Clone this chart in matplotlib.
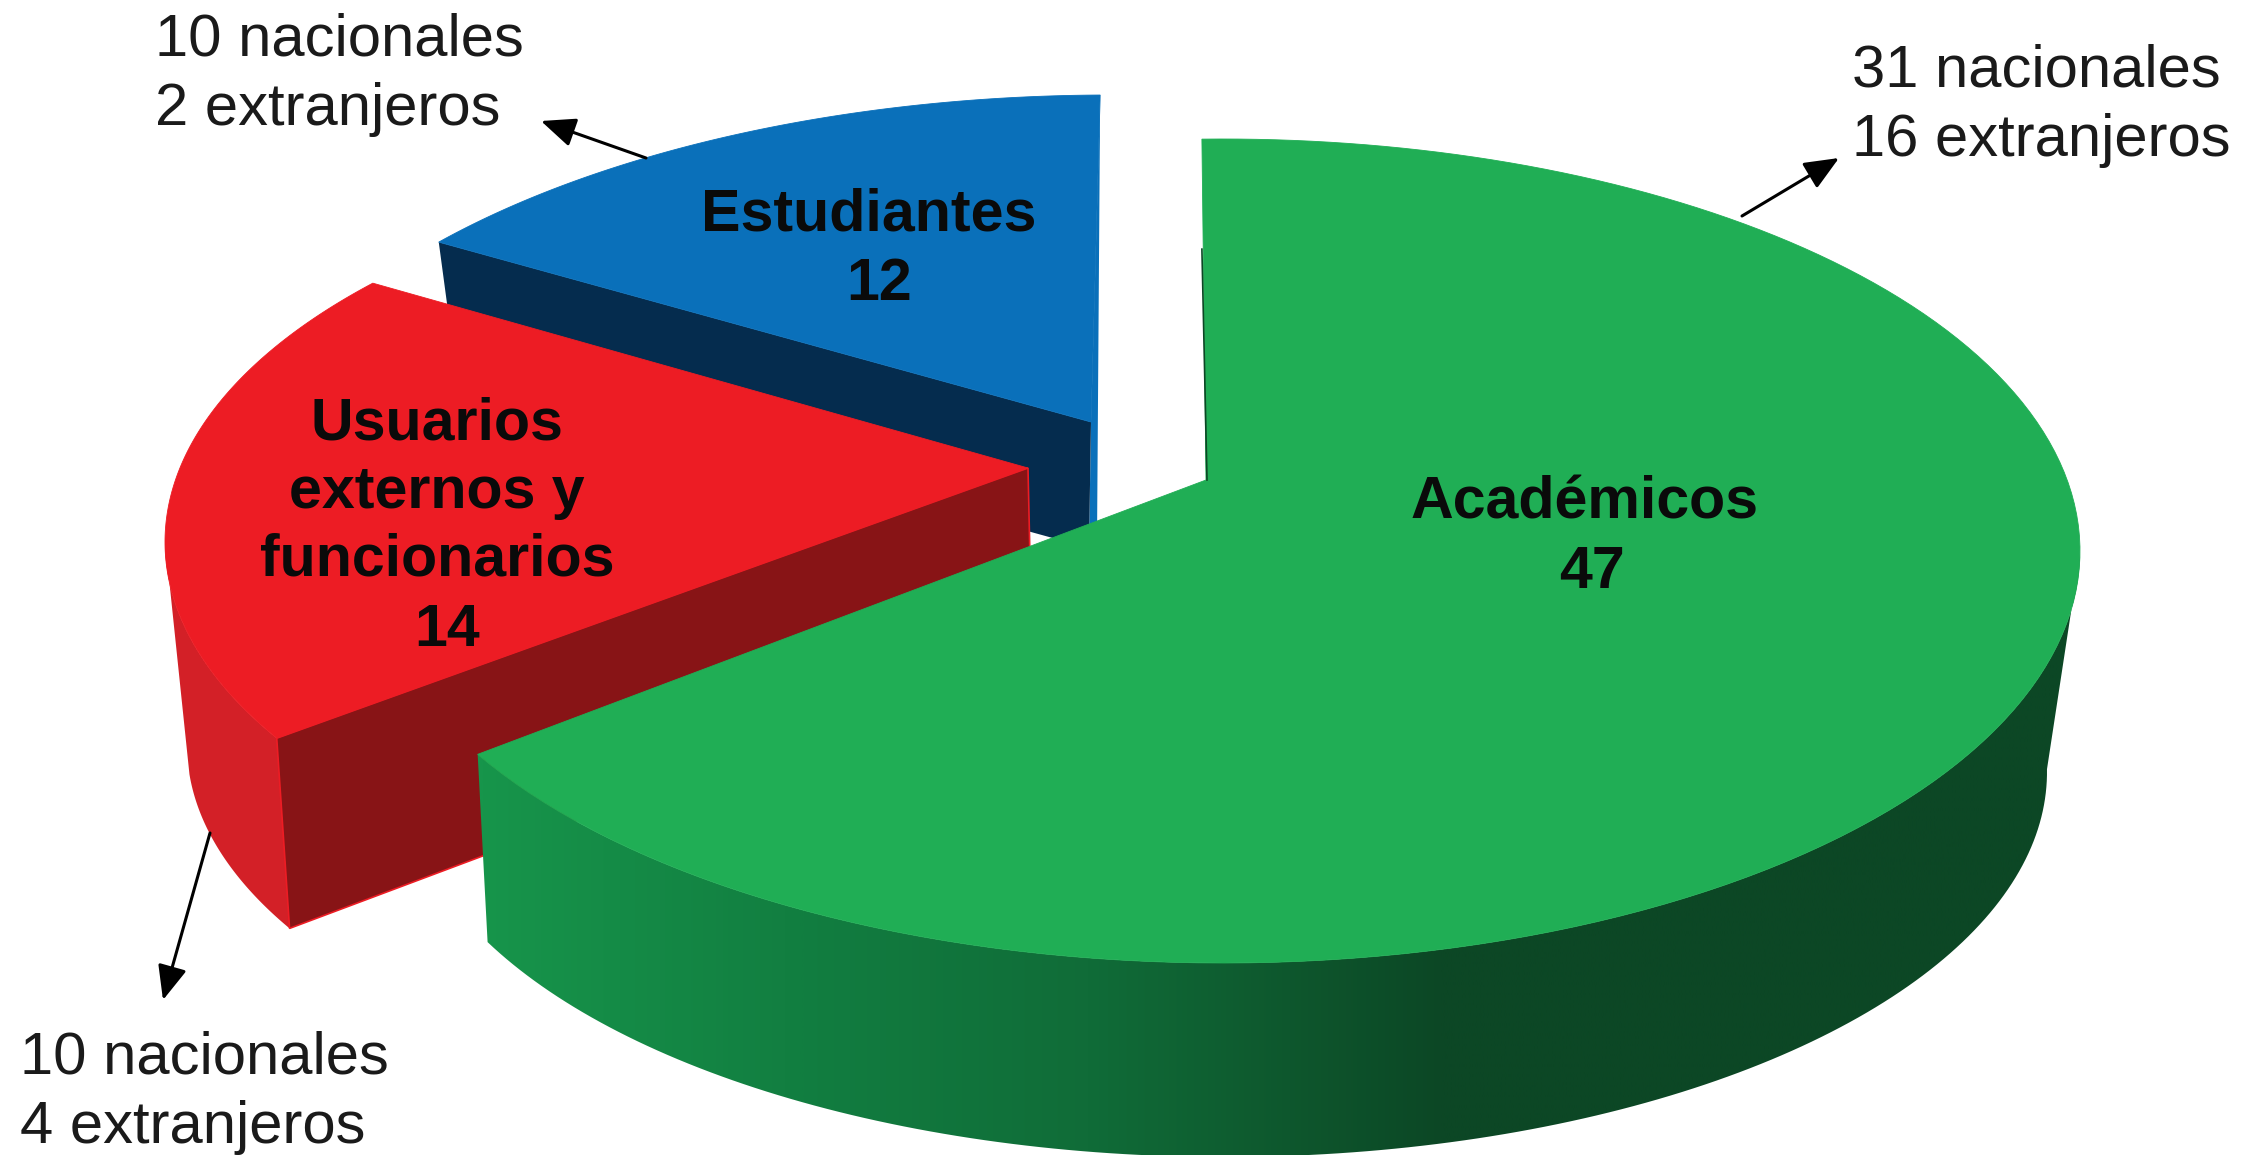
import numpy as np
import matplotlib
matplotlib.use("Agg")
import matplotlib.pyplot as plt
from matplotlib.patches import Polygon
from matplotlib.colors import LinearSegmentedColormap

plt.rcParams['font.family'] = ['Liberation Sans', 'DejaVu Sans']

# ---- data ----
categories = ["Académicos", "Usuarios\nexternos y\nfuncionarios", "Estudiantes"]
values = [47, 14, 12]
notes = ["31 nacionales\n16 extranjeros", "10 nacionales\n4 extranjeros", "10 nacionales\n2 extranjeros"]

W, H = 2259, 1155
fig = plt.figure(figsize=(W / 100, H / 100), dpi=100)
ax = fig.add_axes([0, 0, 1, 1])
ax.axis("off")


# ---- projection of the tilted pie (page pixels) ----
def hit(apex, ell, theta, shear=0.0, stretch=2.1):
    """Where the ray of pie-angle theta (deg, clockwise from 12 o'clock) leaves the ellipse."""
    t = np.radians(theta)
    dx = stretch * np.sin(t) + shear * np.cos(t)
    dy = -np.cos(t)
    cx, cy, rx, ry = ell
    px, py = (apex[0] - cx) / rx, (apex[1] - cy) / ry
    qx, qy = dx / rx, dy / ry
    a, b, c = qx**2 + qy**2, 2 * (px * qx + py * qy), px**2 + py**2 - 1
    s = (-b + np.sqrt(b * b - 4 * a * c)) / (2 * a)
    return np.array([apex[0] + s * dx, apex[1] + s * dy])


def arc(apex, ell, t0, t1, shear=0.0, stretch=2.1, n=160):
    return np.array([hit(apex, ell, t, shear, stretch) for t in np.linspace(t0, t1, n)])


shares = np.array(values) / sum(values) * 360
edges = np.concatenate([[0], np.cumsum(shares)])
g0, g1 = edges[0], edges[1]
r0, r1 = edges[1], edges[2]
b0, b1 = edges[2], edges[3]

# geometry of each exploded slice: apex and ellipse, top and bottom faces
G_TOP, G_TOP_E = (1206, 480), (1223, 551, 857, 412)
G_BOT, G_BOT_E = (1210, 670), (1225, 772, 822, 385)
R_TOP, R_TOP_E = (1028, 468), (970, 542, 805, 386)
R_BOT, R_BOT_E = (1032, 650), (967, 745, 780, 370)
B_TOP, B_TOP_E = (1091, 422), (1110, 521, 888, 426)
B_BOT, B_BOT_E = (1089, 548), (1110, 640, 860, 410)
G_SHEAR, B_SHEAR = -0.012, 0.028
R_SHEAR, R_STRETCH = 0.054, 2.147
B_STRETCH = 2.18

BLUE, BLUE_D = "#0a70ba", "#052c4e"
RED, RED_D, RED_W = "#ed1c24", "#881416", "#d32027"
GREEN = "#20ae55"

# -- blue slice --
bt = arc(B_TOP, B_TOP_E, b0, b1, B_SHEAR, B_STRETCH)
bl_top, br_top = bt[0], bt[-1]
bl_bot = hit(B_BOT, B_BOT_E, b0, B_SHEAR, B_STRETCH)
ax.add_patch(Polygon([br_top, np.array(B_BOT) + (8, -6), B_BOT, B_TOP], fc=BLUE, ec="none", zorder=1))
ax.add_patch(Polygon([B_TOP, bl_top, bl_bot, B_BOT], fc=BLUE_D, ec="none", zorder=2))
ax.add_patch(Polygon(np.vstack([[B_TOP], bt]), fc=BLUE, ec=BLUE, lw=0.6, zorder=3))

# -- red slice --
rt = arc(R_TOP, R_TOP_E, r0, r1, R_SHEAR, R_STRETCH)
rb = arc(R_BOT, R_BOT_E, r0, r0 + 21)
rw = arc(R_TOP, R_TOP_E, r0, r0 + 28, R_SHEAR, R_STRETCH)
ax.add_patch(Polygon(np.vstack([rw, rb[::-1]]), fc=RED_W, ec="none", zorder=4))
ax.add_patch(Polygon([R_TOP, rt[0], rb[0], R_BOT], fc=RED_D, ec=RED, lw=1.2, zorder=5))
ax.add_patch(Polygon(np.vstack([[R_TOP], rt]), fc=RED, ec=RED, lw=0.6, zorder=6))

# -- green slice --
gt = arc(G_TOP, G_TOP_E, g0, g1, G_SHEAR)
gwt = arc(G_TOP, G_TOP_E, 100, g1, G_SHEAR)
gwb = arc(G_BOT, G_BOT_E, 104, g1, G_SHEAR)
wall = Polygon(np.vstack([gwt, gwb[::-1]]), fc="none", ec="none", zorder=7)
ax.add_patch(wall)
shade = LinearSegmentedColormap.from_list(
    "wall",
    [(0.0, "#17954b"), (0.19, "#127f41"), (0.38, "#106c38"), (0.60, "#0c4725"), (1.0, "#0c4725")],
)
grad = ax.imshow(
    np.linspace(0, 1, 800)[None, :], cmap=shade, vmin=0, vmax=1,
    extent=(476, 2090, H, 500), aspect="auto", zorder=7, interpolation="bilinear",
)
grad.set_clip_path(wall)
ax.add_patch(Polygon(np.vstack([[G_TOP], gt]), fc=GREEN, ec=GREEN, lw=0.6, zorder=9))
ax.plot([gt[0][0], G_TOP[0] + 1], [gt[0][1] + 110, G_TOP[1]], color="#0c4725", lw=1.2, zorder=10)

# ---- labels ----
BOLD = dict(fontsize=42.6, fontweight="bold", ha="center", va="center", color="#0a0a0a",
            linespacing=1.31, zorder=20)
name_pos = [(1585, 503), (437, 492), (869, 215)]
value_pos = [(1592, 572), (447, 630), (879, 285)]
for c, v, p, q in zip(categories, values, name_pos, value_pos):
    ax.text(p[0], p[1], c, **BOLD)
    ax.text(q[0], q[1], str(v), **BOLD)

note_pos = [(1852, 106), (20, 1093), (155, 75)]
for n, p in zip(notes, note_pos):
    ax.text(p[0], p[1], n, fontsize=43, ha="left", va="center", color="#1a1a1a",
            linespacing=1.33, zorder=20)

arrows = [((1742, 216), (1839, 158)), ((210, 833), (163, 1000)), ((646, 158), (541, 121))]
for a, b in arrows:
    ax.annotate("", xy=b, xytext=a, zorder=21,
                arrowprops=dict(arrowstyle="-|>,head_length=0.75,head_width=0.32", color="black",
                                lw=2.2, shrinkA=0, shrinkB=0, mutation_scale=28))

ax.set_xlim(0, W)
ax.set_ylim(H, 0)
fig.savefig("out.png", dpi=100, facecolor="white")
